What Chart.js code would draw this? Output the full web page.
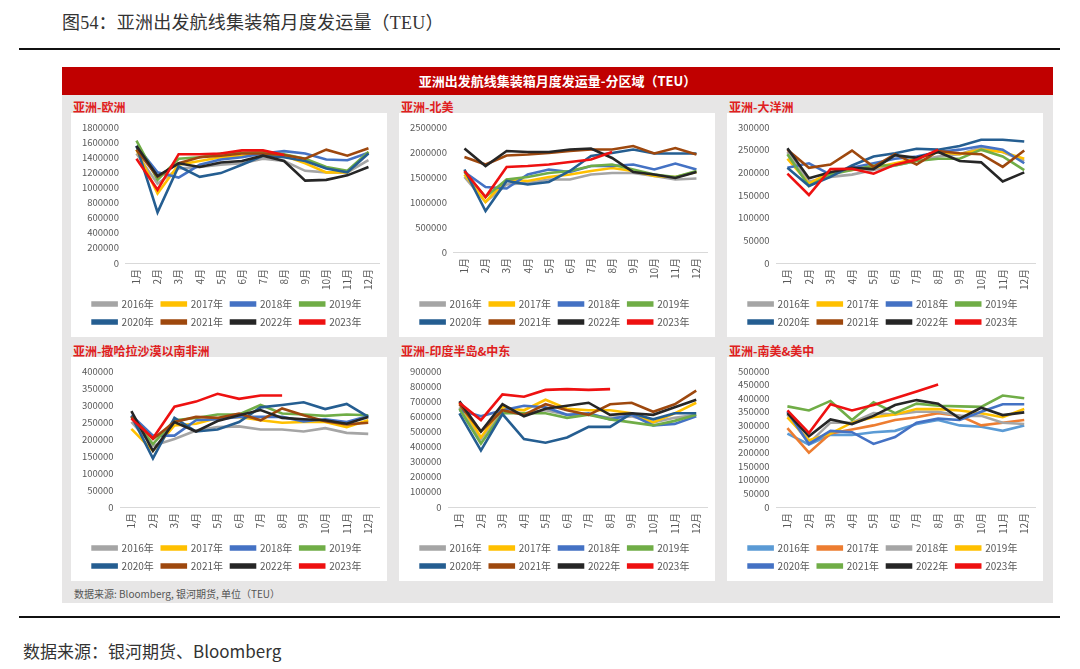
<!DOCTYPE html>
<html>
<head>
<meta charset="utf-8">
<script src="https://cdn.jsdelivr.net/npm/chart.js@4.4.0/dist/chart.umd.min.js"></script>
<style>
  body { margin: 0; width: 1080px; height: 669px; background: #fff; position: relative; overflow: hidden;
         font-family: "Noto Sans CJK SC", "Noto Sans", sans-serif; }
  .abs { position: absolute; }
  #title { left: 62px; top: 8px; font-size: 18px; color: #333; letter-spacing: 0.2px;
           font-family: "Liberation Serif", "Noto Sans CJK SC", serif; }
  .rule { left: 19px; width: 1041px; height: 2px; background: #111; }
  #frame { left: 62px; top: 67px; width: 991px; height: 536px; background: #e7e6e6; }
  #bar { left: 62px; top: 67px; width: 991px; height: 28px; background: #c00000; color: #fff;
         font-size: 13px; font-weight: bold; text-align: center; line-height: 28px; }
  .ptitle { font-size: 12px; font-weight: bold; color: #e02020; }
  .card { background: #fff; width: 316px; height: 224px; }
  #note { left: 74px; top: 586px; font-size: 10px; color: #555; }
  #source { left: 23px; top: 638px; font-size: 17px; color: #333; }
</style>
</head>
<body>
<div id="title" class="abs">图54：亚洲出发航线集装箱月度发运量（TEU）</div>
<div class="abs rule" style="top:48px"></div>
<div id="frame" class="abs"></div>
<div id="bar" class="abs">亚洲出发航线集装箱月度发运量-分区域（TEU）</div>
<div id="panels"></div>
<div id="note" class="abs">数据来源: Bloomberg, 银河期货, 单位（TEU）</div>
<div class="abs rule" style="top:616px"></div>
<div id="source" class="abs">数据来源：银河期货、Bloomberg</div>

<script>
const months = ["1月", "2月", "3月", "4月", "5月", "6月", "7月", "8月", "9月", "10月", "11月", "12月"];
const years = ["2016年", "2017年", "2018年", "2019年", "2020年", "2021年", "2022年", "2023年"];

// rows: 2016 ... 2023
const europe = [
  [1450000, 1050000, 1250000, 1270000, 1300000, 1320000, 1380000, 1350000, 1220000, 1200000, 1200000, 1360000],
  [1500000, 920000, 1300000, 1350000, 1400000, 1420000, 1450000, 1420000, 1320000, 1200000, 1200000, 1470000],
  [1550000, 1200000, 1130000, 1300000, 1370000, 1400000, 1450000, 1480000, 1450000, 1370000, 1360000, 1460000],
  [1620000, 1100000, 1380000, 1400000, 1450000, 1460000, 1470000, 1440000, 1380000, 1270000, 1220000, 1470000],
  [1550000, 670000, 1280000, 1140000, 1190000, 1300000, 1420000, 1400000, 1350000, 1250000, 1200000, 1450000],
  [1500000, 1140000, 1320000, 1400000, 1420000, 1450000, 1450000, 1430000, 1380000, 1500000, 1420000, 1520000],
  [1550000, 1150000, 1320000, 1270000, 1330000, 1350000, 1420000, 1350000, 1090000, 1100000, 1160000, 1270000],
  [1380000, 970000, 1440000, 1440000, 1450000, 1490000, 1490000, 1430000]
];
const northAmerica = [
  [1500000, 1000000, 1350000, 1380000, 1450000, 1450000, 1550000, 1580000, 1580000, 1520000, 1450000, 1470000],
  [1550000, 1000000, 1450000, 1420000, 1500000, 1550000, 1620000, 1680000, 1620000, 1520000, 1500000, 1600000],
  [1600000, 1300000, 1270000, 1550000, 1650000, 1600000, 1720000, 1720000, 1750000, 1650000, 1770000, 1650000],
  [1600000, 1100000, 1450000, 1500000, 1580000, 1620000, 1720000, 1750000, 1650000, 1550000, 1500000, 1620000],
  [1650000, 820000, 1420000, 1350000, 1400000, 1620000, 1920000, 1980000, 2050000, 1970000, 1970000, 1970000],
  [1900000, 1750000, 1930000, 1950000, 1980000, 2020000, 2050000, 2050000, 2120000, 1970000, 2080000, 1950000],
  [2070000, 1720000, 2020000, 2000000, 2000000, 2050000, 2070000, 1880000, 1600000, 1550000, 1480000, 1600000],
  [1620000, 1100000, 1700000, 1720000, 1750000, 1800000, 1850000, 2000000]
];
const oceania = [
  [245000, 180000, 190000, 195000, 205000, 215000, 225000, 235000, 240000, 255000, 245000, 225000],
  [230000, 175000, 200000, 205000, 210000, 220000, 230000, 245000, 240000, 250000, 245000, 230000],
  [210000, 220000, 195000, 210000, 220000, 230000, 235000, 245000, 250000, 258000, 250000, 220000],
  [240000, 170000, 195000, 205000, 215000, 215000, 225000, 230000, 230000, 250000, 235000, 205000],
  [210000, 170000, 190000, 215000, 235000, 242000, 252000, 250000, 258000, 272000, 272000, 268000],
  [250000, 210000, 217000, 248000, 212000, 240000, 217000, 247000, 242000, 240000, 212000, 248000],
  [253000, 187000, 200000, 210000, 207000, 238000, 232000, 245000, 225000, 222000, 180000, 200000],
  [197000, 150000, 207000, 208000, 197000, 217000, 228000, 250000]
];
const subSaharan = [
  [250000, 180000, 200000, 225000, 235000, 237000, 228000, 228000, 222000, 232000, 218000, 215000],
  [230000, 165000, 240000, 245000, 262000, 265000, 255000, 248000, 250000, 250000, 235000, 255000],
  [270000, 210000, 210000, 255000, 258000, 265000, 265000, 265000, 252000, 258000, 250000, 268000],
  [265000, 185000, 255000, 262000, 272000, 272000, 300000, 275000, 272000, 268000, 272000, 270000],
  [268000, 143000, 262000, 222000, 228000, 250000, 293000, 300000, 308000, 288000, 303000, 265000],
  [265000, 200000, 250000, 265000, 262000, 275000, 255000, 290000, 270000, 252000, 243000, 248000],
  [282000, 165000, 250000, 222000, 253000, 270000, 285000, 262000, 258000, 255000, 245000, 265000],
  [260000, 202000, 295000, 310000, 333000, 318000, 328000, 328000]
];
const indiaMidEast = [
  [660000, 450000, 640000, 620000, 640000, 610000, 610000, 590000, 600000, 560000, 590000, 610000],
  [690000, 460000, 660000, 640000, 710000, 650000, 640000, 640000, 620000, 560000, 620000, 690000],
  [640000, 600000, 640000, 670000, 660000, 610000, 620000, 580000, 610000, 540000, 550000, 600000],
  [650000, 420000, 620000, 620000, 620000, 590000, 610000, 580000, 560000, 540000, 570000, 610000],
  [620000, 375000, 615000, 450000, 425000, 460000, 530000, 530000, 620000, 580000, 620000, 620000],
  [680000, 500000, 640000, 610000, 680000, 640000, 610000, 680000, 690000, 630000, 680000, 770000],
  [700000, 500000, 680000, 600000, 650000, 670000, 690000, 610000, 620000, 610000, 660000, 710000],
  [690000, 575000, 745000, 730000, 775000, 780000, 775000, 780000]
];
const latinAmerica = [
  [270000, 230000, 265000, 265000, 275000, 280000, 305000, 320000, 300000, 295000, 280000, 300000],
  [290000, 200000, 270000, 285000, 300000, 320000, 330000, 345000, 335000, 300000, 310000, 320000],
  [340000, 235000, 310000, 310000, 345000, 340000, 350000, 350000, 335000, 335000, 310000, 305000],
  [330000, 245000, 270000, 310000, 330000, 340000, 360000, 360000, 355000, 345000, 330000, 360000],
  [350000, 232000, 280000, 275000, 232000, 257000, 310000, 325000, 320000, 350000, 378000, 378000],
  [370000, 355000, 390000, 320000, 385000, 345000, 380000, 372000, 370000, 368000, 410000, 400000],
  [345000, 260000, 322000, 305000, 335000, 375000, 393000, 380000, 325000, 365000, 338000, 348000],
  [355000, 272000, 378000, 355000, 375000, 400000, 425000, 450000]
];

const colorsA = ["#a5a5a5", "#ffc000", "#4472c4", "#70ad47", "#255e91", "#9e480e", "#262626", "#ee1111"];
const colorsB = ["#5b9bd5", "#ed7d31", "#a5a5a5", "#ffc000", "#4472c4", "#70ad47", "#262626", "#ee1111"];

const panels = [
  { title: "亚洲-欧洲", data: europe, max: 1800000, step: 200000, colors: colorsA, x: 71, y: 113, gap: 0 },
  { title: "亚洲-北美", data: northAmerica, max: 2500000, step: 500000, colors: colorsA, x: 399, y: 113, gap: 11 },
  { title: "亚洲-大洋洲", data: oceania, max: 300000, step: 50000, colors: colorsA, x: 727, y: 113, gap: 0 },
  { title: "亚洲-撒哈拉沙漠以南非洲", data: subSaharan, max: 400000, step: 50000, colors: colorsA, x: 71, y: 357, gap: 0 },
  { title: "亚洲-印度半岛&中东", data: indiaMidEast, max: 900000, step: 100000, colors: colorsA, x: 399, y: 357, gap: 0 },
  { title: "亚洲-南美&美中", data: latinAmerica, max: 500000, step: 50000, colors: colorsB, x: 727, y: 357, gap: 0 }
];

const holder = document.getElementById("panels");
const tickFont = { family: "'Noto Sans CJK SC', sans-serif", size: 10 };
const yFont = { family: "'Noto Sans CJK SC', sans-serif", size: 9.5 };

panels.forEach((p) => {
  const t = document.createElement("div");
  t.className = "abs ptitle";
  t.style.left = (p.x + 2) + "px";
  t.style.top = (p.y - 15) + "px";
  t.textContent = p.title;
  holder.appendChild(t);

  const card = document.createElement("div");
  card.className = "abs card";
  card.style.left = p.x + "px";
  card.style.top = p.y + "px";
  const canvas = document.createElement("canvas");
  canvas.width = 316;
  canvas.height = 224;
  card.appendChild(canvas);
  holder.appendChild(card);

  new Chart(canvas.getContext("2d"), {
    type: "line",
    data: {
      labels: months,
      datasets: years.map((yr, i) => ({
        label: yr,
        data: p.data[i],
        borderColor: p.colors[i],
        backgroundColor: p.colors[i],
        borderWidth: 2.6,
        pointRadius: 0,
        tension: 0,
        order: years.length - i
      }))
    },
    options: {
      responsive: false,
      animation: false,
      layout: { padding: { top: 14, left: 4, right: 8, bottom: 0 } },
      plugins: {
        tooltip: { enabled: false },
        legend: {
          position: "bottom",
          labels: {
            sort: (a, b) => a.datasetIndex - b.datasetIndex,
            boxWidth: 24,
            boxHeight: 3,
            padding: 8,
            color: "#595959",
            font: tickFont
          }
        }
      },
      scales: {
        x: {
          offset: true,
          grid: { drawOnChartArea: false, drawTicks: false },
          border: { display: true, color: "#d9d9d9" },
          ticks: { color: "#595959", font: tickFont, minRotation: 90, maxRotation: 90, padding: 6 },
          afterFit: (s) => { s.height = 28 + p.gap; }
        },
        y: {
          min: 0,
          max: p.max,
          grid: { display: false, drawTicks: false },
          border: { display: false },
          ticks: {
            stepSize: p.step,
            autoSkip: false,
            color: "#595959",
            font: yFont,
            padding: 7,
            callback: (v) => String(v)
          }
        }
      }
    }
  });
});
</script>
</body>
</html>
